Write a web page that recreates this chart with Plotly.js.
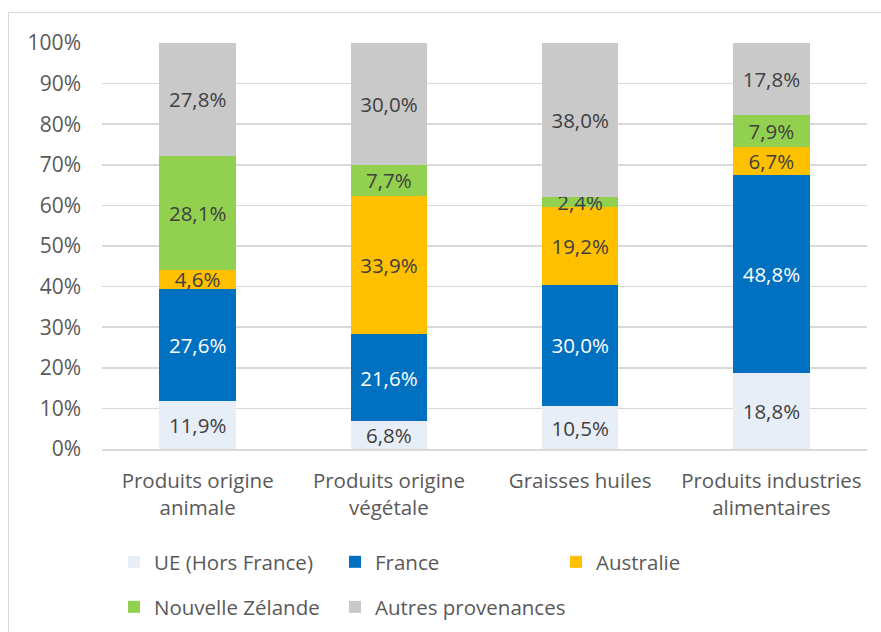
<!DOCTYPE html>
<html>
<head>
<meta charset="utf-8">
<script src="https://cdn.plot.ly/plotly-3.0.1.min.js"></script>
<style>
  html, body { margin: 0; padding: 0; background: #fff; }
  #wrap { position: relative; width: 881px; height: 632px; }
  #chart { position: absolute; left: 0; top: 0; width: 881px; height: 632px; }
  #frame { position: absolute; left: 8px; top: 12px; width: 900px; height: 700px;
           border: 1.5px solid #d9d9d9; pointer-events: none; }
</style>
</head>
<body>
<div id="wrap">
  <div id="chart"></div>
  <div id="frame"></div>
</div>
<script>
const categories = [
  "Produits origine<br>animale",
  "Produits origine<br>végétale",
  "Graisses huiles",
  "Produits industries<br>alimentaires"
];
const seriesNames = ["UE (Hors France)", "France", "Australie", "Nouvelle Zélande", "Autres provenances"];
const ueHorsFrance = [11.9, 6.8, 10.5, 18.8];
const france       = [27.6, 21.6, 30.0, 48.8];
const australie    = [4.6, 33.9, 19.2, 6.7];
const nouvelleZelande = [28.1, 7.7, 2.4, 7.9];
const autres       = [27.8, 30.0, 38.0, 17.8];
const yTickVals = [0,10,20,30,40,50,60,70,80,90,100];

const colors = ["#E8EEF7", "#0070C0", "#FFC000", "#92D050", "#C9C9C9"];
const textColors = ["#404040", "#ffffff", "#404040", "#404040", "#404040"];
const values = [ueHorsFrance, france, australie, nouvelleZelande, autres];
const legendIds = ["legend", "legend", "legend", "legend2", "legend3"];
const FONT = "'Open Sans', 'Liberation Sans', sans-serif";

const data = values.map((v, i) => ({
  type: "bar",
  name: seriesNames[i],
  x: categories,
  y: v,
  marker: { color: colors[i], line: { width: 0 } },
  texttemplate: "%{y:.1f}%",
  textposition: "inside",
  insidetextanchor: "middle",
  textangle: 0,
  constraintext: "none",
  textfont: { family: FONT, size: 20.5, color: textColors[i] },
  legend: legendIds[i],
  hoverinfo: "skip"
}));

const legendCommon = {
  orientation: "h",
  xref: "container", yref: "container",
  xanchor: "left", yanchor: "middle",
  entrywidth: 176, entrywidthmode: "pixels",
  font: { family: FONT, size: 20.5, color: "#595959" },
  bgcolor: "rgba(0,0,0,0)",
  traceorder: "normal",
  itemclick: false, itemdoubleclick: false
};

const layout = {
  width: 881, height: 632,
  margin: { l: 101.5, r: 14.4, t: 43, b: 183, pad: 0 },
  paper_bgcolor: "#ffffff", plot_bgcolor: "#ffffff",
  separators: ", ",
  barmode: "stack",
  bargap: 0.6,
  showlegend: true,
  font: { family: FONT, size: 20, color: "#595959" },
  xaxis: {
    type: "category",
    showgrid: false,
    showline: true, linecolor: "#d9d9d9", linewidth: 1.5,
    ticks: "",
    ticklabelstandoff: 13,
    tickfont: { family: FONT, size: 20.5, color: "#595959" },
    fixedrange: true
  },
  yaxis: {
    range: [0, 100],
    tickvals: yTickVals,
    ticktext: yTickVals.map(v => v + "%"),
    showgrid: true, gridcolor: "#d9d9d9", gridwidth: 1.5,
    zeroline: false, showline: false,
    ticks: "",
    ticklabelstandoff: 20,
    tickfont: { family: FONT, size: 21, color: "#595959" },
    fixedrange: true
  },
  legend: Object.assign({}, legendCommon, { x: 114 / 881, y: 1 - 562 / 632 }),
  legend2: Object.assign({}, legendCommon, { x: 114 / 881, y: 1 - 607 / 632 }),
  legend3: Object.assign({}, legendCommon, { entrywidth: 220, x: 335 / 881, y: 1 - 607 / 632 })
};

Plotly.newPlot("chart", data, layout, { displayModeBar: false, staticPlot: true });
</script>
</body>
</html>
